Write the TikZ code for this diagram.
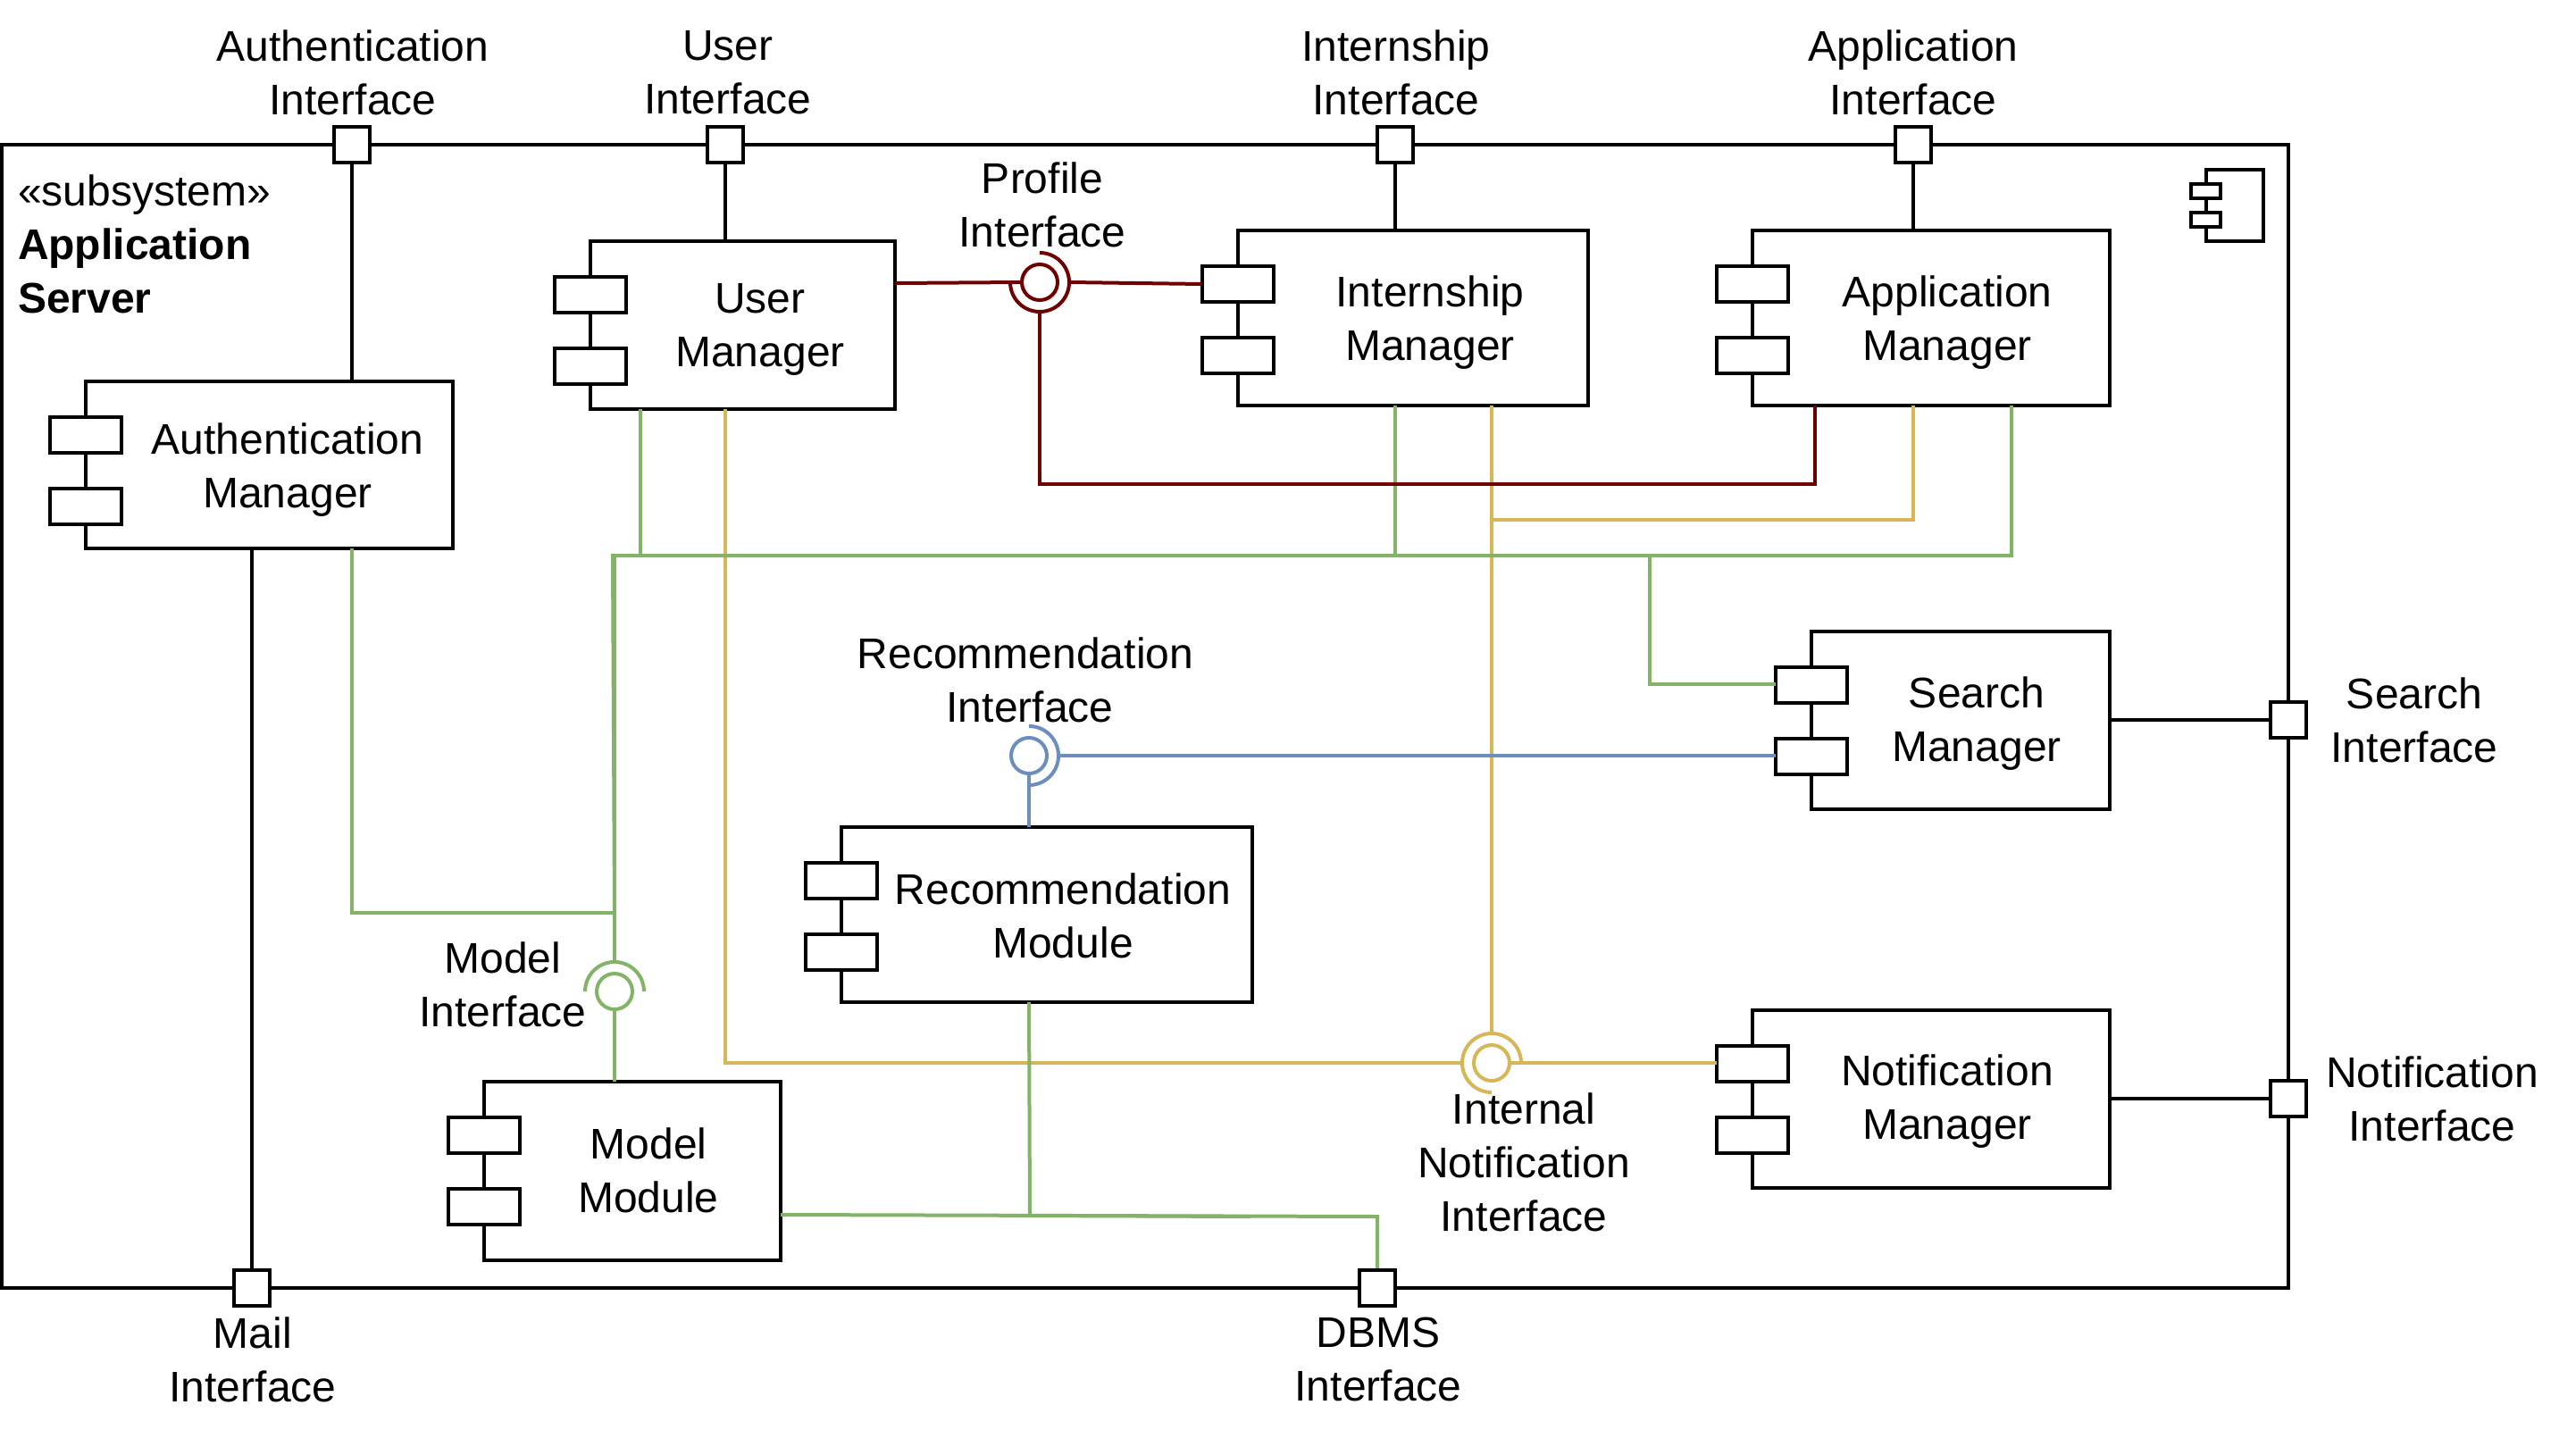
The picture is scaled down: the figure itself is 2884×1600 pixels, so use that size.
\documentclass[tikz,border=0pt]{standalone}
\usepackage{fontspec}
\setmainfont{Liberation Sans}
\usetikzlibrary{calc}
\definecolor{cred}{HTML}{6F0000}
\definecolor{cblue}{HTML}{6C8EBF}
\definecolor{cgreen}{HTML}{82B366}
\definecolor{cyellow}{HTML}{D6B656}
\tikzset{
  every node/.style={outer sep=0pt,inner sep=0pt},
  txt/.style={align=center,font=\fontsize{24pt}{30pt}\selectfont,text=black},
  comp/.style={draw=black,fill=white,line width=2pt,rectangle},
  tabbox/.style={draw=black,fill=white,line width=2pt,rectangle,minimum width=40pt,minimum height=20pt},
  portbox/.style={draw=black,fill=white,line width=2pt,rectangle,minimum width=20pt,minimum height=20pt},
  cir/.style={circle,line width=2pt,minimum size=20pt},
  blk/.style={draw=black,line width=2pt},
  lred/.style={draw=cred,line width=2pt},
  lblue/.style={draw=cblue,line width=2pt},
  lgreen/.style={draw=cgreen,line width=2pt},
  lyellow/.style={draw=cyellow,line width=2pt}
}
% name, left, top, right, bottom
\newcommand{\compbox}[5]{%
  \pgfmathsetmacro{\cw}{(#4-#2)/2}\pgfmathsetmacro{\ch}{(#5-#3)/2}%
  \node[comp,minimum width=\cw pt,minimum height=\ch pt] (#1) at ({(#2+#4)/2},{(#3+#5)/2}) {};
  \node[tabbox] (#1t1) at ($(#1.north west)+(0,60)$) {};
  \node[tabbox] (#1t2) at ($(#1.north west)+(0,140)$) {};
}
\begin{document}
\begin{tikzpicture}[x=0.5pt,y=-0.5pt]
\useasboundingbox (0,0) rectangle (2884,1600);
% frame
\node[draw=black,line width=2pt,minimum width=1280pt,minimum height=640pt] (frame) at (1282,802) {};
% icon
\node[draw=black,line width=2pt,minimum width=32pt,minimum height=40pt] (ico) at (2502,230) {};
\node[draw=black,fill=white,line width=2pt,minimum width=16.5pt,minimum height=8pt] (icoa) at (2469.5,214) {};
\node[draw=black,fill=white,line width=2pt,minimum width=16.5pt,minimum height=8pt] (icob) at (2469.5,246) {};
% components
\compbox{um}{661}{270}{1002}{458}
\compbox{am}{96}{427}{507}{614}
\compbox{im}{1386}{258}{1778}{454}
\compbox{apm}{1962}{258}{2362}{454}
\compbox{sm}{2028}{707}{2362}{906}
\compbox{rm}{942}{926}{1402}{1122}
\compbox{mm}{542}{1211}{874}{1411}
\compbox{nm}{1962}{1131}{2362}{1330}
% lollipop centres
\node[cir] (cProf) at (1164,316) {};
\node[cir] (cRec) at (1152,846) {};
\node[cir] (cMod) at (688,1110) {};
\node[cir] (cInt) at (1670,1190) {};
% yellow
\draw[lyellow] (um.south -| 812,0) -- (812,1190) -- (1637,1190);
\draw[lyellow] (im.south -| 1670,0) -- (1670,1157);
\draw[lyellow] (1670,582) -- (2142,582) -- (apm.south -| 2142,0);
\draw[lyellow] (cInt.east) -- (nmt1.west |- cInt);
\draw[lyellow] (1703,1190) arc[start angle=0,end angle=270,radius=16.5pt];
\draw[lyellow] (cInt) circle[radius=10pt];
% green connectors
\coordinate (gL) at (686,622);
\coordinate (gR) at (2252,622);
\draw[lgreen] (cMod.south) -- (mm.north -| cMod);
\draw[lgreen] (688,1077) -- (688,620);
\draw[lgreen] (688,1022) -- (gL) -- (gR) -- (apm.south -| gR);
\draw[lgreen] (717,622) -- (um.south -| 717,0);
\draw[lgreen] (1562,622) -- (im.south -| 1562,0);
\draw[lgreen] (1847,622) -- (1847,766) -- (smt1.west |- 0,766);
\draw[lgreen] (am.south -| 394,0) -- (394,1022) -- (688,1022);
\draw[lgreen] (mm.east |- 0,1360) -- (1542,1362) -- (1542,1421);
\draw[lgreen] (rm.south -| 1152,0) -- (1153,1361) -- (1400,1362);
\draw[lgreen] (655,1110) arc[start angle=180,end angle=0,radius=16.5pt];
\draw[lgreen] (cMod) circle[radius=10pt];
% blue
\draw[lblue] (cRec.south) -- (rm.north -| cRec);
\draw[lblue] (1185,846) -- (smt2.west |- cRec);
\draw[lblue] (1152,813) arc[start angle=90,end angle=-90,radius=16.5pt];
\draw[lblue] (cRec) circle[radius=10pt];
% red
\draw[lred] (um.east |- 0,317) -- (cProf.west);
\draw[lred] (1197,316) -- (imt1.west);
\draw[lred] (1164,349) -- (1164,542) -- (2032,542) -- (apm.south -| 2032,0);
\draw[lred] (1164,283) arc[start angle=90,end angle=-180,radius=16.5pt];
\draw[lred] (cProf) circle[radius=10pt];
% ports
\node[portbox] (pAuth) at (394,162) {};
\node[portbox] (pUser) at (812,162) {};
\node[portbox] (pInt) at (1562,162) {};
\node[portbox] (pApp) at (2142,162) {};
\node[portbox] (pSea) at (2562,806) {};
\node[portbox] (pNot) at (2562,1230) {};
\node[portbox] (pMail) at (282,1442) {};
\node[portbox] (pDbms) at (1542,1442) {};
% black connectors
\draw[blk] (pAuth.south) -- (am.north -| pAuth);
\draw[blk] (pUser.south) -- (um.north -| pUser);
\draw[blk] (pInt.south) -- (im.north -| pInt);
\draw[blk] (pApp.south) -- (apm.north -| pApp);
\draw[blk] (am.south -| pMail) -- (pMail.north);
\draw[blk] (sm.east |- pSea) -- (pSea.west);
\draw[blk] (nm.east |- pNot) -- (pNot.west);
% labels
\node[txt] (l1) at (395,81) {Authentication\\Interface};
\node[txt] (l2) at (815,81) {User\\Interface};
\node[txt] (l3) at (1563,81) {Internship\\Interface};
\node[txt] (l4) at (2142,81) {Application\\Interface};
\node[txt] (l5) at (1167,229) {Profile\\Interface};
\node[txt] (l6) at (851,369) {User\\Manager};
\node[txt] (l7) at (1601,361) {Internship\\Manager};
\node[txt] (l8) at (2180,361) {Application\\Manager};
\node[txt] (l9) at (322,526) {Authentication\\Manager};
\node[txt] (l10) at (2213,810) {Search\\Manager};
\node[txt] (l11) at (1153,761) {Recommendation\hspace*{5pt}\\Interface};
\node[txt] (l12) at (1190,1025) {Recommendation\\Module};
\node[txt] (l13) at (563,1102) {Model\\Interface};
\node[txt] (l14) at (726,1310) {Model\\Module};
\node[txt] (l15) at (2180,1233) {Notification\\Manager};
\node[txt] (l16) at (1706,1301) {Internal\\Notification\\Interface};
\node[txt] (l17) at (283,1522) {Mail\\Interface};
\node[txt] (l18) at (1543,1522) {DBMS\\Interface};
\node[txt] (l19) at (2703,806) {Search\\Interface};
\node[txt] (l20) at (2723,1230) {Notification\\Interface};
\node[txt,align=left,anchor=west] (l21) at (20,273) {«subsystem»\\\textbf{Application}\\\textbf{Server}};
\end{tikzpicture}
\end{document}
